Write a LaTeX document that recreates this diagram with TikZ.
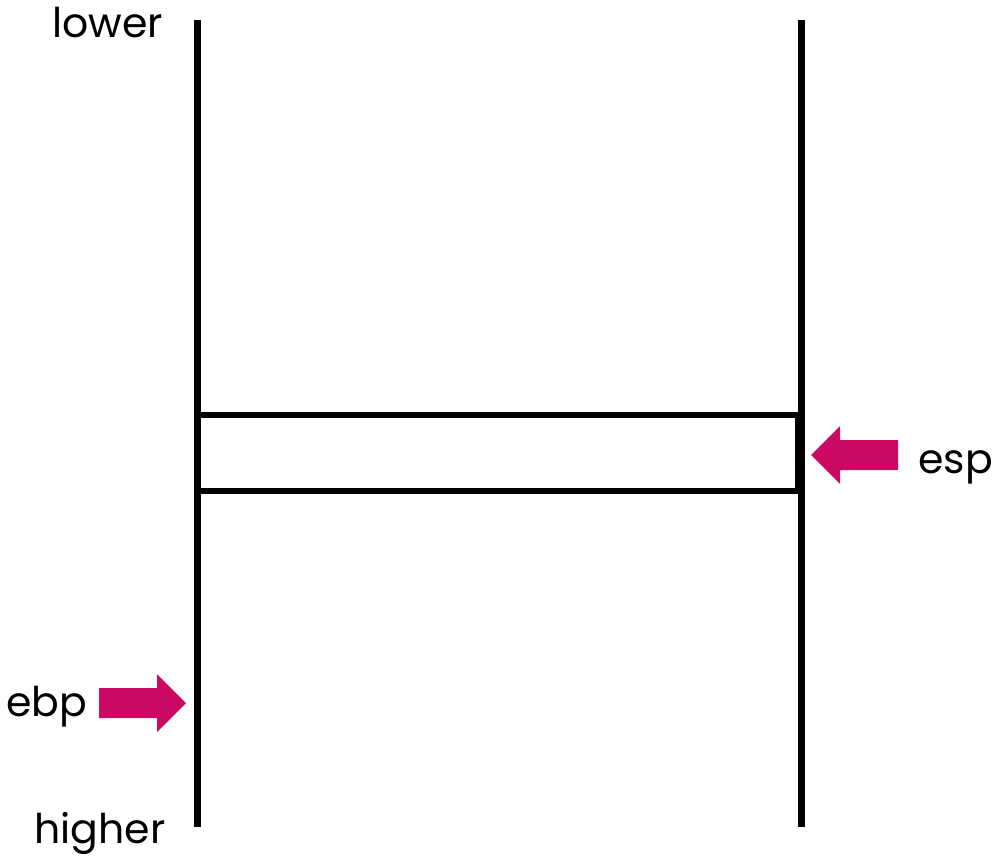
\documentclass[tikz,border=0pt]{standalone}
\usepackage{fontspec}
\setmainfont{Poppins}

\definecolor{ptrpink}{RGB}{204,10,100}

\tikzset{every picture/.style={line width=7pt}}

\begin{document}
\begin{tikzpicture}[x=1pt,y=1pt,yscale=-1,xscale=1]
		\useasboundingbox (0,0) rectangle (999,862);

		%Straight Lines [stack left wall]
		\draw   (197,20) -- (197,827) ;
		%Straight Lines [stack right wall]
		\draw   (801,20) -- (801,827) ;
		%Shape: Rectangle [stack slot]
		\draw [line width=6.5pt]  (197,415) -- (798,415) -- (798,491) -- (197,491) -- cycle ;

		%Shape: Arrow [esp pointer]
		\fill [ptrpink]  (898,440) -- (840,440) -- (840,426) -- (811,455) -- (840,484) -- (840,470) -- (898,470) -- cycle ;
		%Shape: Arrow [ebp pointer]
		\fill [ptrpink]  (99,688) -- (157,688) -- (157,674) -- (186,703) -- (157,732) -- (157,718) -- (99,718) -- cycle ;

		% Text Node
		\draw (49,37) node [anchor=base west][inner sep=0pt]   {\fontsize{41}{44}\selectfont lower};
		% Text Node
		\draw (31,843) node [anchor=base west][inner sep=0pt]   {\fontsize{41}{44}\selectfont higher};
		% Text Node
		\draw (915,473) node [anchor=base west][inner sep=0pt]   {\fontsize{41}{44}\selectfont esp};
		% Text Node
		\draw (3,716) node [anchor=base west][inner sep=0pt]   {\fontsize{41}{44}\selectfont ebp};
	\end{tikzpicture}
\end{document}
